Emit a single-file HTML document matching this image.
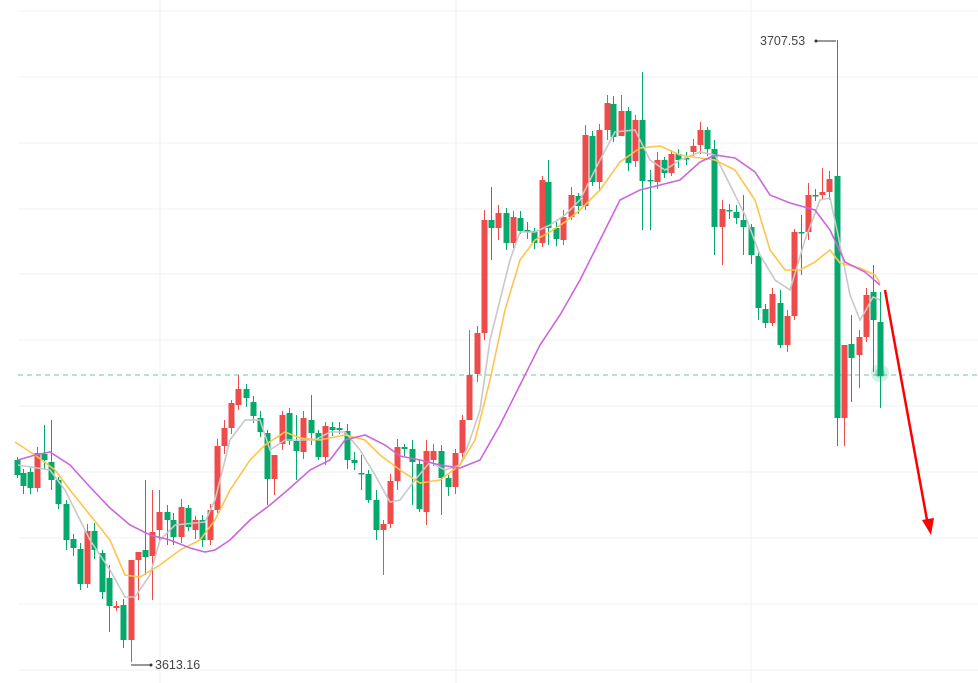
<!DOCTYPE html>
<html><head><meta charset="utf-8"><style>
html,body{margin:0;padding:0;background:#fff;}
svg{display:block;font-family:"Liberation Sans",sans-serif;}
</style></head><body>
<svg id="s" width="978" height="683" viewBox="0 0 978 683" xmlns="http://www.w3.org/2000/svg">
<g stroke="#f0f0f0" stroke-width="1">
<line x1="18" y1="11" x2="978" y2="11"/><line x1="18" y1="77" x2="978" y2="77"/><line x1="18" y1="143" x2="978" y2="143"/><line x1="18" y1="209" x2="978" y2="209"/><line x1="18" y1="274" x2="978" y2="274"/><line x1="18" y1="340" x2="978" y2="340"/><line x1="18" y1="406" x2="978" y2="406"/><line x1="18" y1="472" x2="978" y2="472"/><line x1="18" y1="538" x2="978" y2="538"/><line x1="18" y1="604" x2="978" y2="604"/><line x1="18" y1="670" x2="978" y2="670"/>
<line x1="160" y1="0" x2="160" y2="683"/><line x1="456" y1="0" x2="456" y2="683"/><line x1="751" y1="0" x2="751" y2="683"/>
</g>
<line x1="18" y1="375" x2="978" y2="375" stroke="#6cc7a0" stroke-width="1" stroke-dasharray="5,4"/>
<g id="c"></g>
<polyline fill="none" stroke="#c8c8c8" stroke-width="1.6" points="18,465 50,470 65,490 90,540 110,570 125,597 135,597 150,575 160,540 175,525 195,523 205,522 215,500 230,440 245,420 260,420 270,450 285,440 300,440 315,440 330,432 345,432 360,450 375,475 390,502 400,500 415,480 430,462 445,470 460,465 470,440 480,410 490,340 500,300 510,260 520,232 535,232 550,225 565,215 580,200 600,160 615,132 635,130 650,160 665,170 680,160 700,152 715,155 730,185 745,215 760,255 775,280 790,290 805,240 820,200 830,198 837,230 850,295 860,320 866,310 873,297 880,300"/>
<polyline fill="none" stroke="#ffc44d" stroke-width="1.6" points="15,442 35,455 55,470 70,490 90,515 110,540 125,575 140,577 160,565 180,550 200,540 215,520 230,490 250,460 265,445 285,432 300,438 320,440 345,435 365,440 380,455 400,470 420,483 440,480 460,465 475,440 490,380 505,310 520,260 535,240 550,232 565,222 580,210 600,190 620,162 640,148 660,146 680,155 700,158 715,160 735,170 755,200 770,250 785,270 800,270 815,262 830,250 840,263 860,268 875,275 880,283"/>
<polyline fill="none" stroke="#cc66dd" stroke-width="1.6" points="18,460 35,455 50,452 70,465 90,487 110,508 130,525 150,535 170,540 190,548 205,552 215,550 230,540 250,520 270,505 290,488 310,470 330,460 345,440 365,435 385,445 400,456 420,460 440,465 460,468 480,460 500,425 520,385 540,345 560,315 580,280 600,240 620,200 640,190 660,185 680,180 700,162 715,155 735,158 755,172 770,195 790,203 815,210 830,230 845,262 865,272 880,285"/>
<circle cx="880" cy="373" r="9" fill="#0bb07a" opacity="0.18"/>
<circle cx="880" cy="373" r="5" fill="#0bb07a" opacity="0.3"/>
<line x1="885" y1="290" x2="927" y2="520" stroke="#ff0000" stroke-width="2.5"/>
<polygon points="922,520 934,518 931,535" fill="#ff0000"/>
<line x1="816" y1="41" x2="836" y2="41" stroke="#333" stroke-width="1"/><circle cx="816" cy="41" r="1.5" fill="#333"/>
<text x="760" y="45" font-size="12.5" fill="#444">3707.53</text>
<line x1="131" y1="665" x2="151" y2="665" stroke="#333" stroke-width="1"/><circle cx="151" cy="665" r="1.5" fill="#333"/>
<text x="155" y="669" font-size="12.5" fill="#444">3613.16</text>
</svg>
<script>
var d=[[17,460,475],[23,473,486],[30,472,488],[37,488,453],[44,454,460],[51,462,480],[58,480,504],[66,504,540],[73,539,548],[80,549,584],[87,584,531],[94,531,550],[102,553,592],[109,578,606],[116,608,606],[123,605,640],[131,640,560],[138,560,552],[145,550,557],[152,556,532],[159,530,512],[167,512,520],[173,520,537],[181,537,507],[188,508,527],[195,530,520],[202,520,540],[210,540,510],[217,510,446],[224,446,428],[231,428,403],[238,405,389],[246,389,398],[253,402,416],[260,418,432],[267,433,479],[274,479,455],[282,444,415],[289,413,441],[296,441,451],[303,452,418],[311,420,433],[318,433,457],[325,457,426],[332,427,430],[339,428,430],[347,431,460],[354,460,463],[361,473,474],[368,474,500],[376,500,530],[383,530,524],[390,524,481],[397,481,447],[404,447,449],[412,449,462],[419,464,509],[426,512,451],[433,460,451],[441,451,478],[448,478,487],[455,487,453],[462,453,420],[469,420,375],[477,374,333],[484,333,220],[491,220,228],[498,228,213],[506,213,243],[513,243,217],[520,218,231],[527,230,231],[534,231,243],[542,243,180],[548,182,228],[556,228,239],[563,240,217],[571,217,195],[578,196,206],[585,206,135],[592,136,182],[599,182,130],[607,130,103],[613,104,137],[621,136,111],[628,111,163],[635,161,120],[642,120,181],[650,180,181],[657,182,160],[664,160,173],[671,173,154],[678,154,160],[686,158,159],[693,152,146],[700,145,130],[707,130,149],[714,149,227],[722,227,209],[729,210,211],[736,212,218],[743,220,227],[751,227,255],[758,256,308],[765,309,323],[772,323,294],[780,303,345],[787,345,316],[794,316,232],[801,232,233],[808,232,195],[815,195,196],[822,195,192],[829,192,179],[837,176,418],[844,418,345],[851,344,358],[859,355,337],[866,337,295],[873,292,320],[880,322,376]];
var ov={131:[640,662],642:[72,230],837:[40,446],383:[520,575],844:[345,446],16:[440,480],44:[425,470],51:[420,490],66:[500,550],109:[565,632],138:[555,600],145:[480,575],152:[490,600],159:[490,540],167:[505,545],238:[375,410],267:[430,505],274:[455,495],296:[415,480],311:[395,445],326:[415,470],361:[455,490],376:[490,540],412:[440,505],426:[440,525],441:[445,515],469:[330,420],484:[210,340],491:[187,260],498:[205,240],548:[160,245],585:[125,210],607:[95,140],621:[95,135],629:[105,190],650:[170,230],714:[140,255],722:[200,265],743:[195,255],758:[250,320],780:[290,348],787:[310,352],801:[215,275],808:[183,240],822:[168,200],851:[315,402],859:[330,388],873:[265,372],880:[292,408]};
var g=document.getElementById('c'),h='';
d.forEach(function(a,i){var x=a[0],o=a[1],c=a[2];var up=c<o;var col=up?'#f04b4b':'#05a96b';
var t=Math.min(o,c),b=Math.max(o,c);var e=3+(i*7%6);var hi=t-e,lo=b+3+(i*5%7);
if(ov[x]){hi=ov[x][0];lo=ov[x][1];}
h+='<line x1="'+(x+0.5)+'" y1="'+hi+'" x2="'+(x+0.5)+'" y2="'+lo+'" stroke="'+col+'" stroke-width="1"/>';
h+='<rect x="'+(x-2.5)+'" y="'+t+'" width="6" height="'+Math.max(1.5,b-t)+'" fill="'+col+'"/>';});
g.innerHTML=h;
</script>
</body></html>
